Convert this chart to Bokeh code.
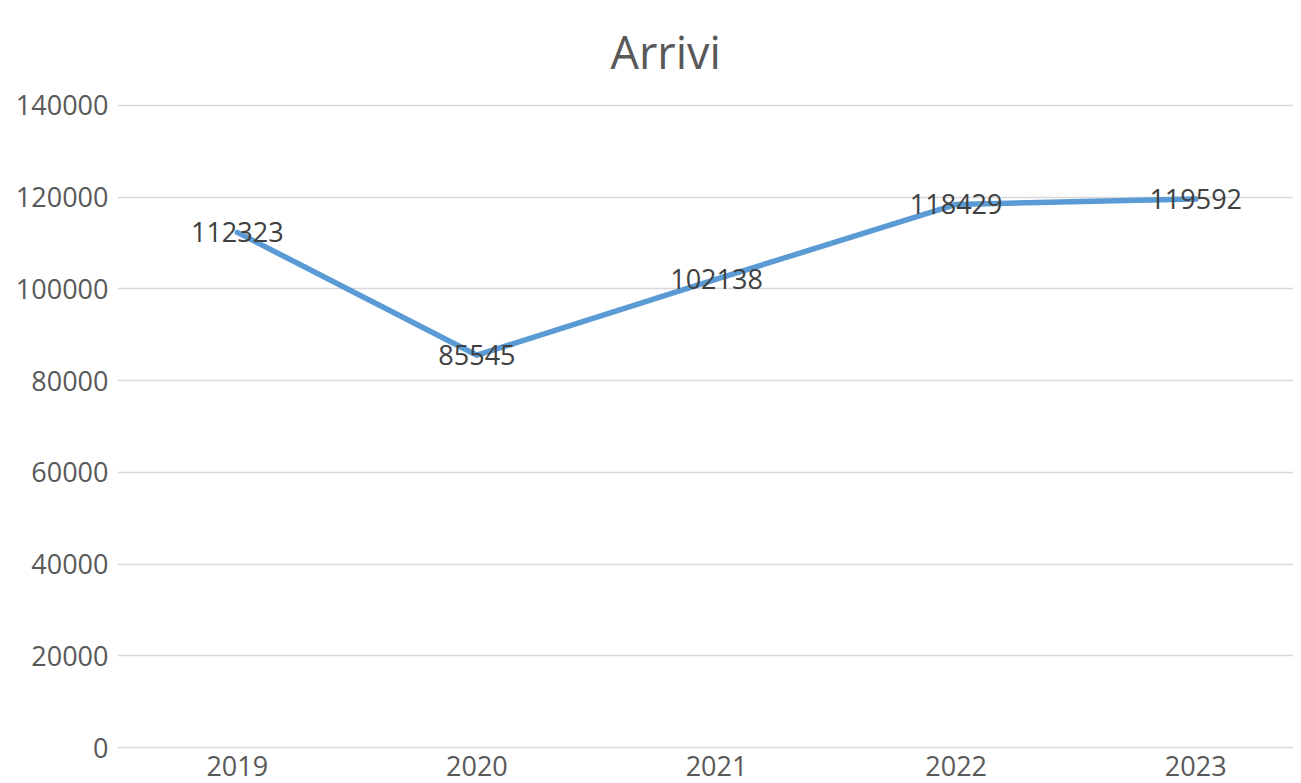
from bokeh.plotting import figure
from bokeh.models import Range1d, ColumnDataSource, FixedTicker, Title, LabelSet, NumeralTickFormatter
from bokeh.core.properties import value
from bokeh.embed import file_html
from bokeh.resources import INLINE

title_text = "Arrivi"
years = ["2019", "2020", "2021", "2022", "2023"]
arrivi = [112323, 85545, 102138, 118429, 119592]
y_ticks = [0, 20000, 40000, 60000, 80000, 100000, 120000, 140000]

xs = list(range(len(years)))
src = ColumnDataSource(dict(x=xs, y=arrivi, lab=[str(v) for v in arrivi]))

FONT = "Open Sans"

p = figure(width=1293, height=783, output_backend="svg", toolbar_location=None,
           x_range=Range1d(-0.5, 4.408), y_range=Range1d(-654, 140654),
           min_border_left=117, min_border_right=0, min_border_top=102,
           min_border_bottom=33)
p.outline_line_color = None
p.background_fill_color = "white"
p.border_fill_color = "white"

t = Title(text=title_text, text_font=FONT, text_font_size="45px",
          text_font_style="normal", text_color="#595959", align="left",
          offset=493, standoff=38, vertical_align="top", text_line_height=0.8)
p.add_layout(t, "above")

p.line("x", "y", source=src, line_color="#5B9BD5", line_width=5.5,
       line_join="round", line_cap="round")

labels = LabelSet(x="x", y="y", text="lab", source=src, text_align="center",
                  text_baseline="middle", text_font=value(FONT), text_font_size="27px",
                  text_color="#404040")
p.add_layout(labels)

p.xaxis.ticker = FixedTicker(ticks=xs)
p.xaxis.major_label_overrides = {i: y for i, y in enumerate(years)}
p.yaxis.ticker = FixedTicker(ticks=y_ticks)
p.yaxis.formatter = NumeralTickFormatter(format="0")
for ax in (p.xaxis, p.yaxis):
    ax.axis_line_color = None
    ax.major_tick_line_color = None
    ax.minor_tick_line_color = None
    ax.major_tick_out = 0
    ax.major_tick_in = 0
    ax.major_label_text_font = FONT
    ax.major_label_text_font_size = "27px"
    ax.major_label_text_color = "#595959"
p.yaxis.major_label_standoff = 9
p.xaxis.major_label_standoff = 5

p.xgrid.grid_line_color = None
p.ygrid.grid_line_color = "#D9D9D9"
p.ygrid.grid_line_width = 1.5

open("out.html", "w").write(file_html(p, INLINE))
